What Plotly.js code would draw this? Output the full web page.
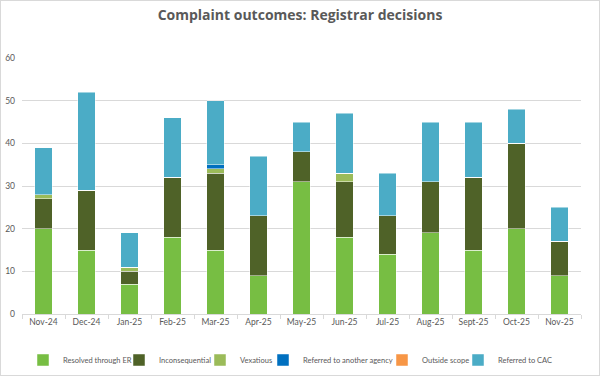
<!DOCTYPE html>
<html>
<head>
<meta charset="utf-8">
<script src="https://cdn.plot.ly/plotly-3.0.1.min.js"></script>
<style>
html,body{margin:0;padding:0;background:#fff;}
#wrap{width:600px;height:376px;box-sizing:border-box;border:1px solid #D9D9D9;}
#chart{width:598px;height:374px;}
</style>
</head>
<body>
<div id="wrap"><div id="chart"></div></div>
<script>
const months = ["Nov-24","Dec-24","Jan-25","Feb-25","Mar-25","Apr-25","May-25","Jun-25","Jul-25","Aug-25","Sept-25","Oct-25","Nov-25"];
const resolvedER     = [20,15,7,18,15,9,31,18,14,19,15,20,9];
const inconsequential= [7,14,3,14,18,14,7,13,9,12,17,20,8];
const vexatious      = [1,0,1,0,1,0,0,2,0,0,0,0,0];
const referredAgency = [0,0,0,0,1,0,0,0,0,0,0,0,0];
const outsideScope   = [0,0,0,0,0,0,0,0,0,0,0,0,0];
const referredCAC    = [11,23,8,14,15,14,7,14,10,14,13,8,8];

const seriesNames = ["Resolved through ER","Inconsequential","Vexatious","Referred to another agency","Outside scope","Referred to CAC"];
const seriesData = [resolvedER, inconsequential, vexatious, referredAgency, outsideScope, referredCAC];
const colors = ["#77BE43","#4F6228","#9BBB59","#0070C0","#F79646","#4BACC6"];
// left edge (px, container) of each legend entry
const legendLeft = [22, 118, 199, 262, 381, 457];

const legendIds = seriesNames.map((n,i)=> i===0 ? "legend" : "legend"+(i+1));

const traces = seriesNames.map((n,i)=>({
  type:"bar", name:n, x:months, y:seriesData[i], legend:legendIds[i],
  marker:{color:colors[i], line:{color:"rgba(255,255,255,0.6)", width:0.8}},
  hoverinfo:"x+y+name"
}));

const font = "Lato, 'Open Sans', sans-serif";
const layout = {
  width:598, height:374,
  barmode:"stack", bargap:0.6,
  paper_bgcolor:"#fff", plot_bgcolor:"#fff",
  margin:{l:21, r:18, t:57, b:61, autoexpand:false},
  font:{family:font, color:"#595959", size:9},
  title:{text:"Complaint outcomes: Registrar decisions", font:{family:"'Open Sans', sans-serif", size:14, color:"#595959", weight:"bold"}, x:0.5, xanchor:"center", y:1-14/374, yanchor:"middle", yref:"container"},
  xaxis:{type:"category", automargin:false, showline:true, linecolor:"#D9D9D9", linewidth:1, ticks:"outside", tickson:"boundaries", ticklen:4, tickcolor:"#D9D9D9", tickfont:{size:8.5, color:"#595959"}, showgrid:false},
  yaxis:{range:[0,60], dtick:10, automargin:false, showgrid:true, gridcolor:"#D9D9D9", gridwidth:1, zeroline:false, showline:false, tickfont:{size:8.5, color:"#595959"}, ticks:"", ticklabelstandoff:6},
  showlegend:true
};
legendIds.forEach((id,i)=>{
  layout[id] = {orientation:"h", xref:"container", x:legendLeft[i]/598, xanchor:"left", yref:"container", y:1-359/374, yanchor:"middle", bgcolor:"rgba(0,0,0,0)", font:{size:7.5, color:"#595959"}, itemwidth:30};
});
Plotly.newPlot("chart", traces, layout, {displayModeBar:false, staticPlot:true});
</script>
</body>
</html>
